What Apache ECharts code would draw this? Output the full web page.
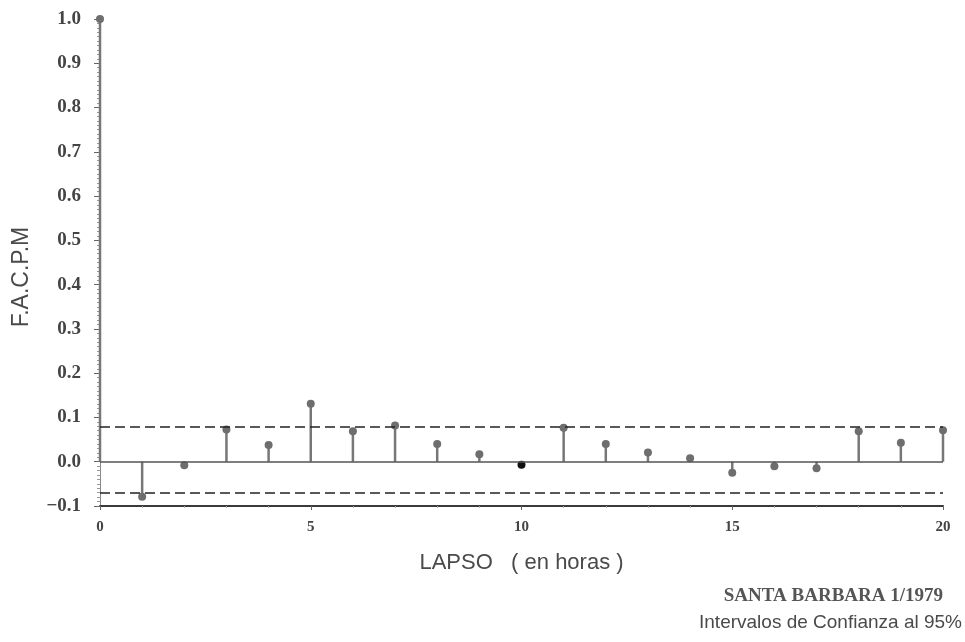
<!DOCTYPE html>
<html lang="es">
<head>
  <meta charset="UTF-8">
  <title>F.A.C.P.M - Santa Barbara 1/1979</title>
  <style>
    * { margin: 0; padding: 0; }
    body { background: #ffffff; }
    #main { width: 965px; height: 642px; }
  </style>
</head>
<body>
  <div id="main"></div>
  <script src="https://cdn.jsdelivr.net/npm/echarts@6/dist/echarts.min.js"></script>
  <script>
    // lags (horas) y valores de la funcion de autocorrelacion parcial
    var lags = [0, 1, 2, 3, 4, 5, 6, 7, 8, 9, 10, 11, 12, 13, 14, 15, 16, 17, 18, 19, 20];
    var facpm = [1.0, -0.079, -0.008, 0.073, 0.038, 0.131, 0.069, 0.082, 0.040, 0.017, -0.007,
                 0.077, 0.040, 0.021, 0.008, -0.025, -0.010, -0.015, 0.069, 0.043, 0.071];
    var limSup = 0.077;
    var limInf = -0.074;

    var puntos = lags.map(function (l, i) { return [l, facpm[i]]; });

    var myChart = echarts.init(document.getElementById('main'));

    var option = {
      backgroundColor: '#ffffff',
      animation: false,
      grid: { left: 100, right: 22, top: 19, bottom: 136 },
      xAxis: {
        type: 'value',
        min: 0,
        max: 20,
        interval: 5,
        name: 'LAPSO   ( en horas )',
        nameLocation: 'middle',
        nameGap: 46,
        nameTextStyle: { fontFamily: 'Liberation Sans', fontSize: 22, color: '#4a4a4a' },
        axisLine: { show: true, onZero: false, lineStyle: { color: '#3a3a3a', width: 2 } },
        axisTick: { show: true, length: 4, lineStyle: { color: '#666' } },
        minorTick: { show: true, splitNumber: 5, length: 2, lineStyle: { color: '#aaa' } },
        splitLine: { show: false },
        axisLabel: { fontFamily: 'Liberation Serif', fontSize: 15, fontWeight: 'bold', color: '#444', margin: 14 }
      },
      yAxis: {
        type: 'value',
        min: -0.1,
        max: 1.0,
        interval: 0.1,
        offset: 6,
        axisLine: { show: true, lineStyle: { color: '#888', width: 1 } },
        axisTick: { show: true, length: 6, lineStyle: { color: '#666' } },
        minorTick: { show: true, splitNumber: 10, length: 3, lineStyle: { color: '#999' } },
        splitLine: { show: false },
        axisLabel: {
          fontFamily: 'Liberation Serif', fontSize: 19, fontWeight: 'bold', color: '#444', margin: 13,
          formatter: function (v) { return v.toFixed(1).replace('-', '\u2212'); }
        }
      },
      series: [{
        type: 'custom',
        data: puntos,
        encode: { x: 0, y: 1 },
        renderItem: function (params, api) {
          var base = api.coord([api.value(0), 0]);
          var tip = api.coord([api.value(0), api.value(1)]);
          var color = api.value(0) === 10 ? '#111' : '#6e6e6e';
          return {
            type: 'group',
            children: [
              { type: 'line', shape: { x1: base[0], y1: base[1], x2: tip[0], y2: tip[1] },
                style: { stroke: '#777', lineWidth: 2.5 } },
              { type: 'circle', shape: { cx: tip[0], cy: tip[1], r: 4 },
                style: { fill: color } }
            ]
          };
        },
        markLine: {
          silent: true,
          symbol: 'none',
          label: { show: false },
          data: [
            { yAxis: 0, lineStyle: { type: 'solid', color: '#555', width: 1.5 } },
            { yAxis: limSup, lineStyle: { type: [10, 5], color: '#222', width: 1.5 } },
            { yAxis: limInf, lineStyle: { type: [10, 5], color: '#222', width: 1.5 } }
          ]
        }
      }],
      graphic: [
        { type: 'text', x: 22, y: 277, rotation: Math.PI / 2,
          style: { text: 'F.A.C.P.M', font: '23px "Liberation Sans"', fill: '#4a4a4a',
                   align: 'center', verticalAlign: 'middle' } },
        { type: 'text', right: 22, top: 587,
          style: { text: 'SANTA BARBARA 1/1979', font: 'bold 19px "Liberation Serif"', fill: '#555' } },
        { type: 'text', right: 3, top: 613,
          style: { text: 'Intervalos de Confianza al 95%', font: '19px "Liberation Sans"', fill: '#4a4a4a' } }
      ]
    };

    myChart.setOption(option);
  </script>
</body>
</html>
